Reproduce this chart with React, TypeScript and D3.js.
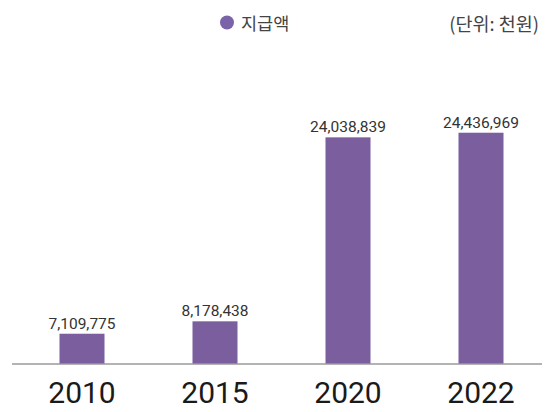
import React from "react";
import * as d3 from "d3";

const years = ["2010", "2015", "2020", "2022"];
const amounts = [7109775, 8178438, 24038839, 24436969];
const legendLabel = "지급액";
const unitLabel = "(단위: 천원)";

const W = 554;
const H = 412;
const baseY = 364;
const barW = 45;
const barColor = "#7a5e9e";

export default function App() {
  const x = d3.scalePoint<string>().domain(years).range([82, 481]);
  // the original chart does not start at zero
  const y = d3.scaleLinear().domain([4.5e6, 24.5e6]).range([baseY, 132]);
  const fmt = d3.format(",");

  return (
    <svg
      width={W}
      height={H}
      style={{ position: "absolute", left: 0, top: 0, background: "#fff" }}
    >
      <circle cx={227} cy={22.5} r={7} fill="#7b63a9" />
      <text
        x={241}
        y={22.5}
        dominantBaseline="central"
        fontFamily="'Noto Sans CJK KR', sans-serif"
        fontSize={17.5}
        fill="#444"
      >
        {legendLabel}
      </text>
      <text
        x={539}
        y={23}
        dominantBaseline="central"
        textAnchor="end"
        fontFamily="'Noto Sans CJK KR', sans-serif"
        fontSize={18.5}
        fill="#444"
      >
        {unitLabel}
      </text>

      {years.map((yr, i) => {
        const cx = x(yr) as number;
        const top = y(amounts[i]);
        return (
          <g key={yr}>
            <rect
              x={cx - barW / 2}
              y={top}
              width={barW}
              height={baseY - top}
              fill={barColor}
            />
            <text
              x={cx}
              y={top - 5}
              textAnchor="middle"
              fontFamily="Roboto, sans-serif"
              fontSize={15.5}
              fill="#333"
            >
              {fmt(amounts[i])}
            </text>
            <text
              x={cx}
              y={403}
              textAnchor="middle"
              fontFamily="Roboto, sans-serif"
              fontSize={30}
              fill="#1a1a1a"
            >
              {yr}
            </text>
          </g>
        );
      })}

      <line x1={12} x2={542} y1={baseY} y2={baseY} stroke="#9a9a9a" strokeWidth={1.5} />
    </svg>
  );
}
